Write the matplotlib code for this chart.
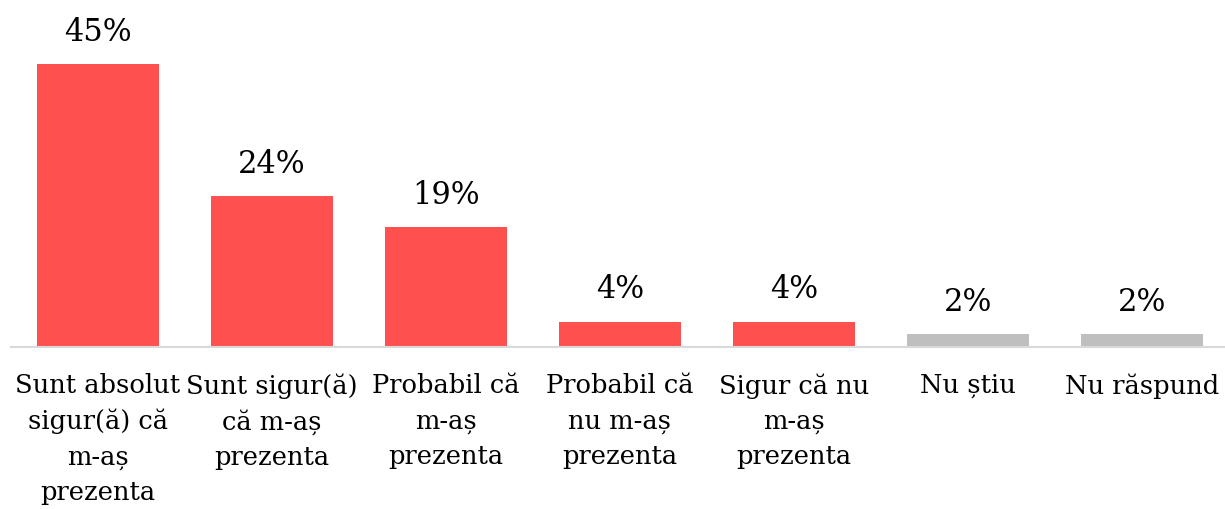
import matplotlib
matplotlib.use("Agg")
import matplotlib.pyplot as plt

# Date sondaj: intenția de prezentare la vot
categorii = [
    "Sunt absolut\nsigur(ă) că\nm-aș\nprezenta",
    "Sunt sigur(ă)\ncă m-aș\nprezenta",
    "Probabil că\nm-aș\nprezenta",
    "Probabil că\nnu m-aș\nprezenta",
    "Sigur că nu\nm-aș\nprezenta",
    "Nu știu",
    "Nu răspund",
]
procente = [45, 24, 19, 4, 4, 2, 2]
culori = ["#FF5050"] * 5 + ["#BFBFBF"] * 2

plt.rcParams["font.family"] = ["DejaVu Serif"]

fig = plt.figure(figsize=(12.25, 5.09), dpi=100)
ax = fig.add_axes([11 / 1225, 162 / 509, 1218 / 1225, 347 / 509])

x = range(len(categorii))
bare = ax.bar(x, procente, width=0.70, color=culori, zorder=2)

for b, v in zip(bare, procente):
    ax.text(b.get_x() + b.get_width() / 2, v + 2.6, f"{v}%",
            ha="center", va="bottom", fontsize=22, color="black")

ax.set_xlim(-0.5, 6.5)
ax.set_ylim(0, 347 / 6.29)
ax.set_xticks(list(x))
ax.set_xticklabels(categorii, fontsize=18.5, linespacing=1.5, ha="center", va="top")
ax.tick_params(axis="x", length=0, pad=19)
ax.set_yticks([])

for s in ["top", "right", "left"]:
    ax.spines[s].set_visible(False)
ax.spines["bottom"].set_color("#D9D9D9")
ax.spines["bottom"].set_linewidth(1.5)

fig.savefig("out.png", dpi=100)
